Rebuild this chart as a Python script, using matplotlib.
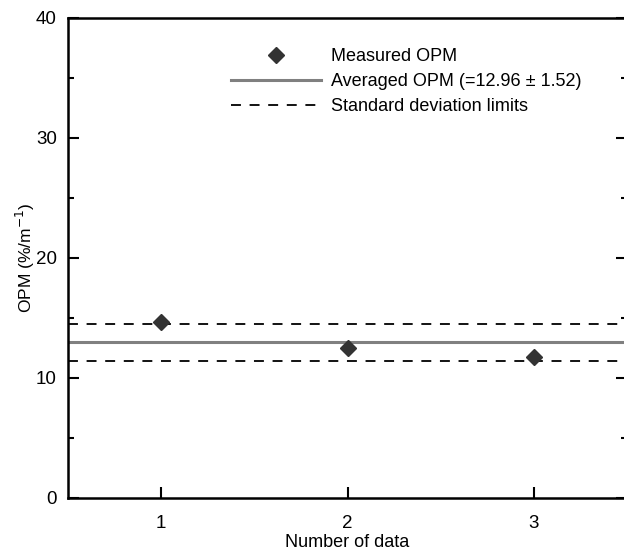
import matplotlib
matplotlib.use("Agg")
import matplotlib.pyplot as plt
import numpy as np

plt.rcParams["font.family"] = ["Liberation Sans", "DejaVu Sans"]

runs = [1, 2, 3]
opm = [14.67, 12.50, 11.72]
opm_mean = 12.96
opm_std = 1.52

fig = plt.figure(figsize=(6.24, 5.54), dpi=100)
ax = fig.add_axes([68 / 624, 1 - 498 / 554, 559 / 624, 480 / 554])

dash = (0, (5.5, 4.8))
ax.axhline(opm_mean, color="#808080", lw=2.2, zorder=1,
           label="Averaged OPM (=12.96 \u00b1 1.52)")
ax.axhline(opm_mean + opm_std, color="black", lw=1.3, ls=dash, zorder=1,
           label="Standard deviation limits")
ax.axhline(opm_mean - opm_std, color="black", lw=1.3, ls=dash, zorder=1)
ax.plot(runs, opm, ls="none", marker="D", ms=8.5, color="#333333", zorder=3,
        label="Measured OPM")

ax.set_xlim(0.5, 3.5)
ax.set_ylim(0, 40)
ax.set_xticks([1, 2, 3])
ax.set_yticks([0, 10, 20, 30, 40])
ax.set_yticks([5, 15, 25, 35], minor=True)
ax.tick_params(axis="both", which="major", direction="in", length=8, width=1.5,
               labelsize=13.5)
ax.tick_params(axis="y", which="both", right=True, direction="in")
ax.tick_params(axis="y", which="minor", length=4, width=1.5)
ax.tick_params(axis="y", pad=8)
ax.tick_params(axis="x", pad=12)
for s in ax.spines.values():
    s.set_linewidth(1.8)

ax.set_xlabel("Number of data", fontsize=13, labelpad=2)
ax.set_ylabel("OPM (%/m$^{-1}$)", fontsize=12.5, labelpad=-1)

h, l = ax.get_legend_handles_labels()
order = [2, 0, 1]
ax.legend([h[i] for i in order], [l[i] for i in order], loc="upper left",
          bbox_to_anchor=(231 / 624, 1 - 48 / 554), bbox_transform=fig.transFigure,
          frameon=False, fontsize=13, handlelength=5, handletextpad=0.55,
          labelspacing=0.45, borderaxespad=0, borderpad=0)

fig.savefig("out.png", dpi=100)
